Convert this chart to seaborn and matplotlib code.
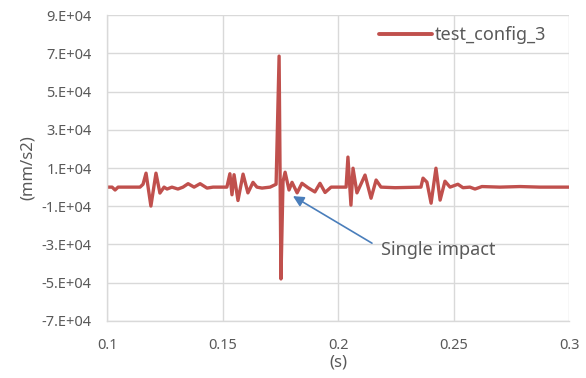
import matplotlib
matplotlib.use("Agg")
import matplotlib.pyplot as plt
import seaborn as sns
import pandas as pd
from matplotlib.ticker import FuncFormatter, FixedLocator

# time (s) and acceleration (mm/s2)
time_s = [0.1000, 0.1022, 0.1035, 0.1048, 0.1143, 0.1156, 0.1169, 0.1190, 0.1212, 0.1229,
          0.1247, 0.1260, 0.1281, 0.1307, 0.1329, 0.1351, 0.1377, 0.1403, 0.1433, 0.1459,
          0.1519, 0.1532, 0.1541, 0.1550, 0.1567, 0.1589, 0.1610, 0.1632, 0.1649, 0.1671,
          0.1706, 0.1732, 0.1745, 0.1753, 0.1762, 0.1771, 0.1788, 0.1801, 0.1823, 0.1844,
          0.1870, 0.1900, 0.1922, 0.1944, 0.1970, 0.2035, 0.2043, 0.2056, 0.2065, 0.2082,
          0.2117, 0.2143, 0.2165, 0.2186, 0.2247, 0.2359, 0.2368, 0.2385, 0.2403, 0.2424,
          0.2442, 0.2463, 0.2485, 0.2519, 0.2541, 0.2571, 0.2593, 0.2623, 0.2701, 0.2788,
          0.2874, 0.3000]
accel = [0, 0, -1500, 0, 0, 1500, 7300, -9900, 7300, -3100,
         0, -1000, 0, -1000, 0, 1800, 0, 1800, -500, 0,
         0, 7000, -4000, 6500, -7000, 6800, -3000, 2500, 0, -500,
         0, 1500, 68500, -48000, 3000, 7800, -1500, 2500, -3000, 2000,
         -300, -2500, 2000, -2800, 0, 0, 15700, -9400, 9900, -3000,
         6300, -5800, 3700, 0, -300, 0, 4700, 2600, -8400, 9900,
         -6800, 3100, 0, 1500, -300, 0, -1000, 300, 0, 300,
         0, 0]

x_ticks = [0.1, 0.15, 0.2, 0.25, 0.3]
y_ticks = [-70000, -50000, -30000, -10000, 10000, 30000, 50000, 70000, 90000]
series_name = "test_config_3"
df = pd.DataFrame({"t": time_s, "a": accel})

sns.set_style("white")
plt.rcParams['font.family'] = ['Noto Sans', 'DejaVu Sans']
text_col = "#595959"
grid_col = "#D9D9D9"


def sci_fmt(v, pos):
    sign = "-" if v < 0 else ""
    return f"{sign}{abs(v) / 1e4:.0f}.E+04"


fig = plt.figure(figsize=(5.86, 3.78), dpi=100)
ax = fig.add_axes([0.1826, 0.1508, 0.7884, 0.8095])

sns.lineplot(data=df, x="t", y="a", ax=ax, color="#C0504D", linewidth=2.4,
             sort=False, estimator=None, label=series_name)

ax.set_xlim(0.1, 0.3)
ax.set_ylim(-70000, 90000)
ax.xaxis.set_major_locator(FixedLocator(x_ticks))
ax.yaxis.set_major_locator(FixedLocator(y_ticks))
ax.xaxis.set_major_formatter(FuncFormatter(lambda v, p: f"{v:g}"))
ax.yaxis.set_major_formatter(FuncFormatter(sci_fmt))
ax.grid(True, color=grid_col, linewidth=1.0)
ax.set_axisbelow(True)
for s in ["top", "right"]:
    ax.spines[s].set_visible(False)
for s in ["left", "bottom"]:
    ax.spines[s].set_color(grid_col)
    ax.spines[s].set_linewidth(1.0)
ax.tick_params(length=0, labelsize=10.5, colors=text_col)
ax.tick_params(axis="y", pad=11)
ax.tick_params(axis="x", pad=12)

ax.set_xlabel("(s)", fontsize=12, color=text_col, labelpad=1)
ax.set_ylabel("(mm/s2)", fontsize=12, color=text_col, labelpad=4)

leg = ax.legend(loc="upper right", frameon=False, fontsize=13, handlelength=2.9,
                handletextpad=0.2, borderaxespad=0.2, bbox_to_anchor=(0.975, 1.0))
for t in leg.get_texts():
    t.set_color(text_col)
for h in leg.get_lines():
    h.set_linewidth(2.8)

ax.annotate("", xy=(0.1805, -4700), xytext=(0.2147, -29300),
            arrowprops=dict(arrowstyle="-|>", color="#4A7EBB", lw=1.2,
                            mutation_scale=16, shrinkA=0, shrinkB=0))
ax.text(0.2185, -33000, "Single impact", fontsize=13, color=text_col,
        ha="left", va="center")

fig.savefig("out.png", dpi=100)
